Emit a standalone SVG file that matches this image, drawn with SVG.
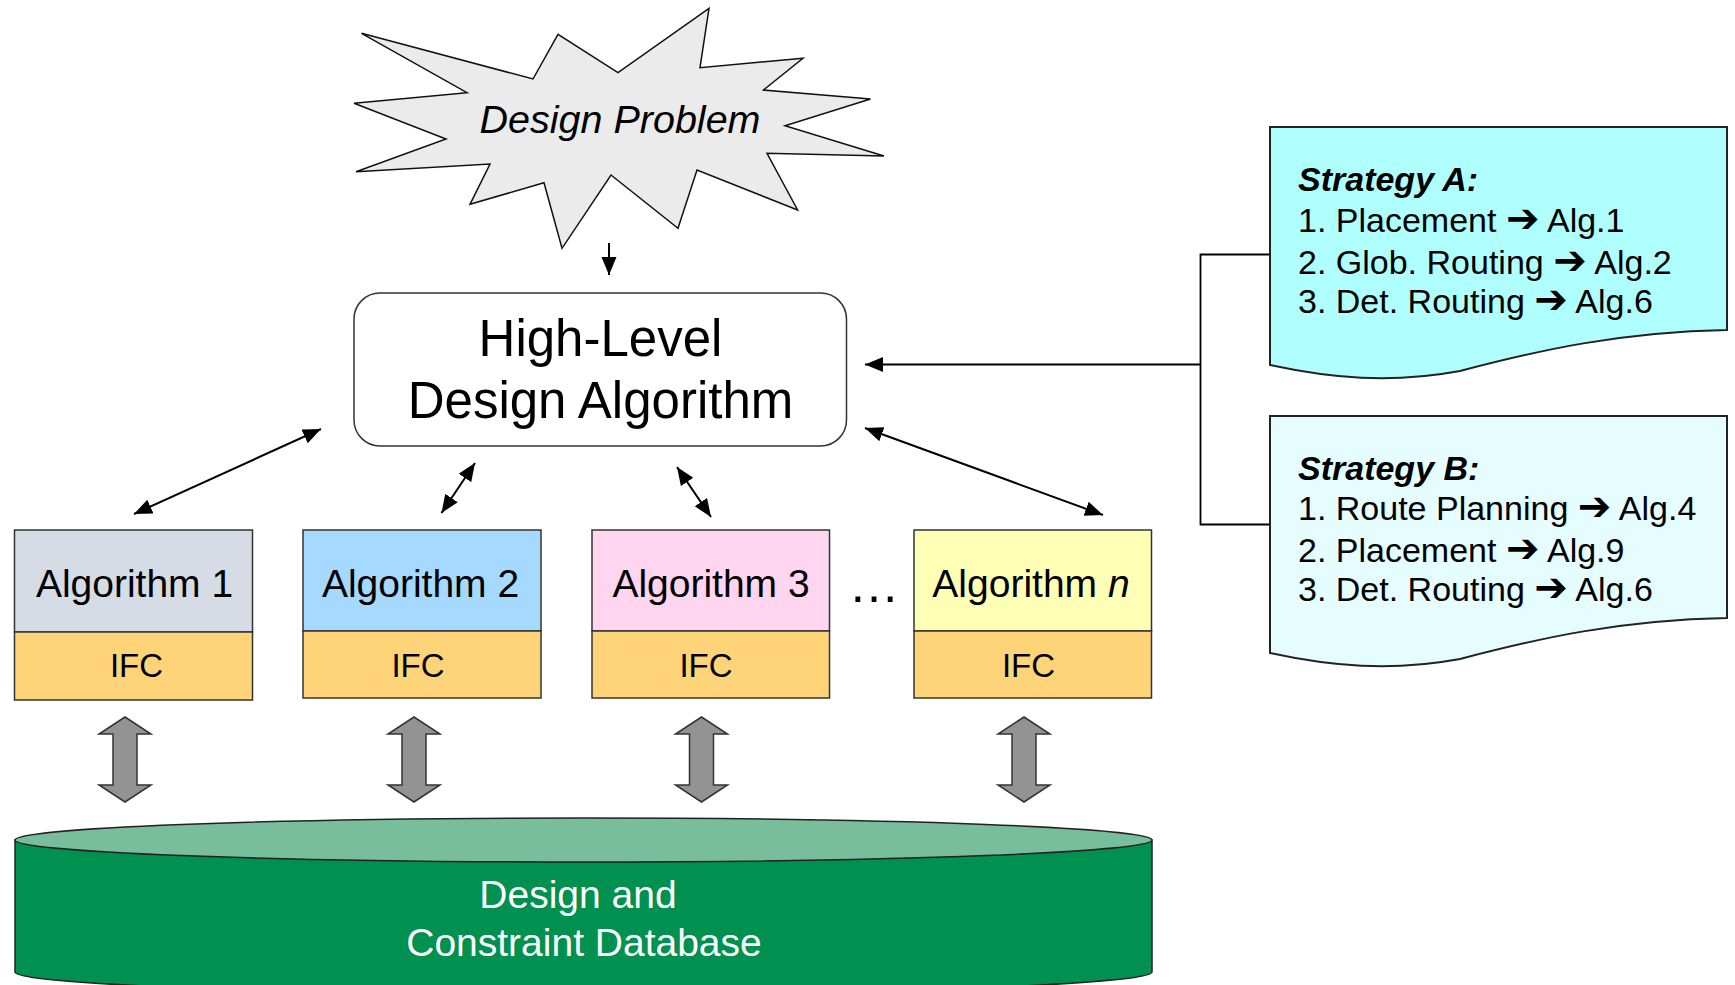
<svg xmlns="http://www.w3.org/2000/svg" width="1735" height="985" viewBox="0 0 1735 985">
  <style>
    text { font-family: "Liberation Sans", Arial, sans-serif; fill: #000; }
    .mid { text-anchor: middle; }
    .alg { font-size: 39px; }
    .ifc { font-size: 33px; }
    .box { stroke: #333; stroke-width: 1.5; }
    .ifcbox { fill: #ffd479; stroke: #333; stroke-width: 1.5; }
    .doc { stroke: #222; stroke-width: 2; }
    .strat { font-size: 34px; }
    .arw { font-family: "DejaVu Sans", sans-serif; font-weight: bold; font-size: 40px; }
    .link { fill: none; stroke: #000; stroke-width: 2; }
    .wire { fill: none; stroke: #000; stroke-width: 1.8; }
    .fat { fill: #939393; stroke: #333; stroke-width: 1.5; stroke-linejoin: miter; }
  </style>
  <defs>
    <marker id="tri" markerUnits="userSpaceOnUse" markerWidth="20" markerHeight="16" refX="18" refY="7.5" orient="auto-start-reverse">
      <path d="M0,0 L18,7.5 L0,15 Z" fill="#000"/>
    </marker>
    <!-- vertical double-headed block arrow, centred on x=0 -->
    <path id="dbl" d="M0,717 L26,734 L12,734 L12,785 L26,785 L0,802 L-26,785 L-12,785 L-12,734 L-26,734 Z"/>
  </defs>

  <rect width="1735" height="985" fill="#fff"/>

  <!-- connectors -->
  <g id="connectors">
    <line class="link" x1="609" y1="243" x2="609" y2="275" marker-end="url(#tri)"/>
    <line class="link" x1="134" y1="514" x2="321" y2="429" marker-start="url(#tri)" marker-end="url(#tri)"/>
    <line class="link" x1="441.5" y1="513" x2="475" y2="463" marker-start="url(#tri)" marker-end="url(#tri)"/>
    <line class="link" x1="677" y1="467" x2="711" y2="517" marker-start="url(#tri)" marker-end="url(#tri)"/>
    <line class="link" x1="865" y1="428" x2="1103" y2="515" marker-start="url(#tri)" marker-end="url(#tri)"/>
    <polyline class="wire" points="1270,254.5 1200.5,254.5 1200.5,524.5 1270,524.5"/>
    <line class="link" x1="1200.5" y1="364.5" x2="865" y2="364.5" marker-end="url(#tri)"/>
    <use href="#dbl" class="fat" transform="translate(125,0)"/>
    <use href="#dbl" class="fat" transform="translate(414,0)"/>
    <use href="#dbl" class="fat" transform="translate(701.5,0)"/>
    <use href="#dbl" class="fat" transform="translate(1024,0)"/>
  </g>

  <!-- problem statement burst -->
  <g id="design-problem">
    <polygon points="361.5,33.3 533,79 558,34.3 618,72.7 709,8.3 700,67.7 803,58.3 763.5,90 870.5,99 785,125.7 884,156 767,153.3 797.6,210 697,170 678,228.3 611,175 562,248.3 544,182.7 470,204.3 490,164 356,171.7 446,139 354,103.3 467,92.7" fill="#ebebeb" stroke="#111" stroke-width="1.5" stroke-linejoin="miter"/>
    <text class="mid" x="620" y="133" font-size="39.5" font-style="italic">Design Problem</text>
  </g>

  <!-- controller -->
  <g id="high-level">
    <rect x="354" y="293" width="492.5" height="153" rx="26" fill="#fff" stroke="#333" stroke-width="1.5"/>
    <text class="mid" x="600.5" y="356" font-size="51">High-Level</text>
    <text class="mid" x="600.5" y="418" font-size="51">Design Algorithm</text>
  </g>

  <!-- algorithm modules -->
  <g id="alg1">
    <rect class="box" x="14.5" y="530" width="238" height="102" fill="#d6dce5"/>
    <rect class="ifcbox" x="14.5" y="632" width="238" height="68"/>
    <text class="mid alg" x="134.5" y="597">Algorithm 1</text>
    <text class="mid ifc" x="136.5" y="677">IFC</text>
  </g>
  <g id="alg2">
    <rect class="box" x="303" y="530" width="238" height="101" fill="#a6d9ff"/>
    <rect class="ifcbox" x="303" y="631" width="238" height="67"/>
    <text class="mid alg" x="420.5" y="597">Algorithm 2</text>
    <text class="mid ifc" x="418" y="677">IFC</text>
  </g>
  <g id="alg3">
    <rect class="box" x="592" y="530" width="237.5" height="101" fill="#ffd5f0"/>
    <rect class="ifcbox" x="592" y="631" width="237.5" height="67"/>
    <text class="mid alg" x="711" y="597">Algorithm 3</text>
    <text class="mid ifc" x="706" y="677">IFC</text>
  </g>
  <text id="ellipsis" class="mid" x="874" y="602" font-size="51">…</text>
  <g id="algn">
    <rect class="box" x="914" y="530" width="237.5" height="101" fill="#ffffb5"/>
    <rect class="ifcbox" x="914" y="631" width="237.5" height="67"/>
    <text class="mid alg" x="1031" y="597">Algorithm <tspan font-style="italic">n</tspan></text>
    <text class="mid ifc" x="1028.5" y="677">IFC</text>
  </g>

  <!-- shared database -->
  <g id="database">
    <path d="M15,840 V972 A568.5,22 0 0 0 1152,972 V840 Z" fill="#00904f" stroke="#222" stroke-width="1.5"/>
    <ellipse cx="583.5" cy="840" rx="568.5" ry="22" fill="#78be9c" stroke="#222" stroke-width="1.5"/>
    <text class="mid" x="578" y="908" font-size="39" style="fill:#fff">Design and</text>
    <text class="mid" x="584" y="956" font-size="39" style="fill:#fff">Constraint Database</text>
  </g>

  <!-- strategy documents -->
  <g id="strategy-a">
    <path class="doc" d="M1270,127 H1727 V330 C1620,332 1540,350 1460,371 C1390,384 1330,378 1270,365 Z" fill="#b0ffff"/>
    <text class="strat" x="1298" y="191" font-weight="bold" font-style="italic">Strategy A:</text>
    <text class="strat" x="1298" y="232">1. Placement <tspan class="arw">➔</tspan> Alg.1</text>
    <text class="strat" x="1298" y="274">2. Glob. Routing <tspan class="arw">➔</tspan> Alg.2</text>
    <text class="strat" x="1298" y="313">3. Det. Routing <tspan class="arw">➔</tspan> Alg.6</text>
  </g>
  <g id="strategy-b">
    <path class="doc" d="M1270,416 H1727 V618 C1620,620 1540,638 1460,659 C1390,672 1330,666 1270,653 Z" fill="#e6fdff"/>
    <text class="strat" x="1298" y="480" font-weight="bold" font-style="italic">Strategy B:</text>
    <text class="strat" x="1298" y="520">1. Route Planning <tspan class="arw">➔</tspan> Alg.4</text>
    <text class="strat" x="1298" y="562">2. Placement <tspan class="arw">➔</tspan> Alg.9</text>
    <text class="strat" x="1298" y="601">3. Det. Routing <tspan class="arw">➔</tspan> Alg.6</text>
  </g>
</svg>
